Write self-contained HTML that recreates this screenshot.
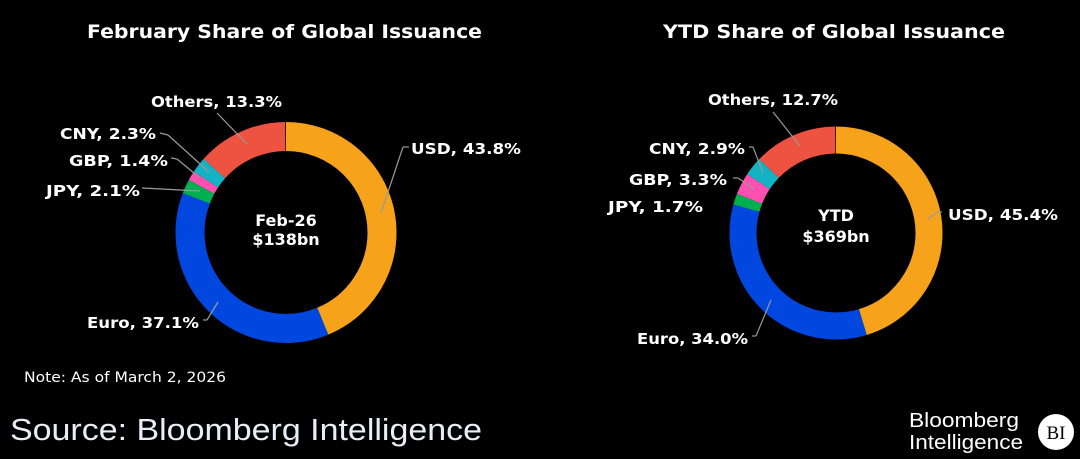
<!DOCTYPE html>
<html><head><meta charset="utf-8"><style>
html,body{margin:0;padding:0;background:#000;}
svg{display:block}
text{font-family:"DejaVu Sans","Liberation Sans",sans-serif;fill:#fff}
.l{font-size:15.5px;font-weight:bold}
.t{font-size:19px;font-weight:bold}
.c{font-size:16px;font-weight:bold}
line{stroke:#9a9a9a;stroke-width:1.2}
</style></head><body>
<svg width="1080" height="459" viewBox="0 0 1080 459" xmlns="http://www.w3.org/2000/svg">
<rect width="1080" height="459" fill="#000"/>
<text class="t" x="87" y="38" textLength="395" lengthAdjust="spacingAndGlyphs">February Share of Global Issuance</text>
<text class="t" x="663" y="38" textLength="342" lengthAdjust="spacingAndGlyphs">YTD Share of Global Issuance</text>

<g transform="rotate(-90 286 232.5)" fill="none" stroke-width="29">
<circle cx="286" cy="232.5" r="96" pathLength="100" stroke="#f7a21b" stroke-dasharray="43.8 100" stroke-dashoffset="0"/>
<circle cx="286" cy="232.5" r="96" pathLength="100" stroke="#0047e0" stroke-dasharray="37.1 100" stroke-dashoffset="-43.8"/>
<circle cx="286" cy="232.5" r="96" pathLength="100" stroke="#00b050" stroke-dasharray="2.1 100" stroke-dashoffset="-80.9"/>
<circle cx="286" cy="232.5" r="96" pathLength="100" stroke="#ff4fb0" stroke-dasharray="1.4 100" stroke-dashoffset="-83"/>
<circle cx="286" cy="232.5" r="96" pathLength="100" stroke="#14b3c4" stroke-dasharray="2.3 100" stroke-dashoffset="-84.4"/>
<circle cx="286" cy="232.5" r="96" pathLength="100" stroke="#ee5240" stroke-dasharray="13.3 100" stroke-dashoffset="-86.7"/>
</g>
<line x1="217" y1="113" x2="247" y2="144"/>
<line x1="160" y1="133" x2="168" y2="135"/><line x1="168" y1="135" x2="209" y2="172"/>
<line x1="171" y1="158" x2="177" y2="159"/><line x1="177" y1="159" x2="200" y2="178"/>
<line x1="142" y1="188" x2="200" y2="191"/>
<line x1="409" y1="147" x2="403" y2="147"/><line x1="403" y1="147" x2="381" y2="213"/>
<line x1="203" y1="320" x2="207" y2="320"/><line x1="207" y1="320" x2="218" y2="302"/>
<text class="l" x="151" y="107" textLength="131" lengthAdjust="spacingAndGlyphs">Others, 13.3%</text>
<text class="l" x="60" y="139" textLength="96" lengthAdjust="spacingAndGlyphs">CNY, 2.3%</text>
<text class="l" x="69" y="166" textLength="99" lengthAdjust="spacingAndGlyphs">GBP, 1.4%</text>
<text class="l" x="46" y="196" textLength="94" lengthAdjust="spacingAndGlyphs">JPY, 2.1%</text>
<text class="l" x="411" y="154" textLength="110" lengthAdjust="spacingAndGlyphs">USD, 43.8%</text>
<text class="l" x="87" y="328" textLength="112" lengthAdjust="spacingAndGlyphs">Euro, 37.1%</text>
<text class="c" x="286" y="226" text-anchor="middle">Feb-26</text>
<text class="c" x="286" y="245" text-anchor="middle">$138bn</text>

<g transform="rotate(-90 836 233)" fill="none" stroke-width="27">
<circle cx="836" cy="233" r="93" pathLength="100" stroke="#f7a21b" stroke-dasharray="45.4 100" stroke-dashoffset="0"/>
<circle cx="836" cy="233" r="93" pathLength="100" stroke="#0047e0" stroke-dasharray="34 100" stroke-dashoffset="-45.4"/>
<circle cx="836" cy="233" r="93" pathLength="100" stroke="#00b050" stroke-dasharray="1.7 100" stroke-dashoffset="-79.4"/>
<circle cx="836" cy="233" r="93" pathLength="100" stroke="#ff4fb0" stroke-dasharray="3.3 100" stroke-dashoffset="-81.1"/>
<circle cx="836" cy="233" r="93" pathLength="100" stroke="#14b3c4" stroke-dasharray="2.9 100" stroke-dashoffset="-84.4"/>
<circle cx="836" cy="233" r="93" pathLength="100" stroke="#ee5240" stroke-dasharray="12.7 100" stroke-dashoffset="-87.3"/>
</g>
<line x1="773" y1="112" x2="800" y2="146"/>
<line x1="749" y1="147" x2="753" y2="147"/><line x1="753" y1="147" x2="763" y2="173"/>
<line x1="733" y1="178" x2="738" y2="178"/><line x1="738" y1="178" x2="754" y2="189"/>
<line x1="942" y1="212" x2="937" y2="212"/><line x1="937" y1="212" x2="928" y2="219"/>
<line x1="752" y1="336" x2="756" y2="336"/><line x1="756" y1="336" x2="771" y2="300"/>
<text class="l" x="708" y="105" textLength="130" lengthAdjust="spacingAndGlyphs">Others, 12.7%</text>
<text class="l" x="649" y="154" textLength="96" lengthAdjust="spacingAndGlyphs">CNY, 2.9%</text>
<text class="l" x="629" y="185" textLength="98" lengthAdjust="spacingAndGlyphs">GBP, 3.3%</text>
<text class="l" x="608" y="212" textLength="95" lengthAdjust="spacingAndGlyphs">JPY, 1.7%</text>
<text class="l" x="948" y="220" textLength="110" lengthAdjust="spacingAndGlyphs">USD, 45.4%</text>
<text class="l" x="637" y="344" textLength="111" lengthAdjust="spacingAndGlyphs">Euro, 34.0%</text>
<text class="c" x="836" y="221" text-anchor="middle">YTD</text>
<text class="c" x="836" y="242" text-anchor="middle">$369bn</text>

<text x="24" y="382" style="font-size:14px" textLength="202" lengthAdjust="spacingAndGlyphs">Note: As of March 2, 2026</text>
<text x="10" y="440" style="font-family:'Liberation Sans',sans-serif;font-size:31px;fill:#e8eef5" textLength="472" lengthAdjust="spacingAndGlyphs">Source: Bloomberg Intelligence</text>
<text x="909" y="427" style="font-family:'Liberation Sans',sans-serif;font-size:20px" textLength="110" lengthAdjust="spacingAndGlyphs">Bloomberg</text>
<text x="909" y="449" style="font-family:'Liberation Sans',sans-serif;font-size:20px" textLength="114" lengthAdjust="spacingAndGlyphs">Intelligence</text>
<circle cx="1056" cy="432" r="18" fill="#fff"/>
<text x="1056" y="439" text-anchor="middle" style="font-family:'Liberation Serif',serif;font-size:19px;fill:#000">BI</text>
</svg>
</body></html>
